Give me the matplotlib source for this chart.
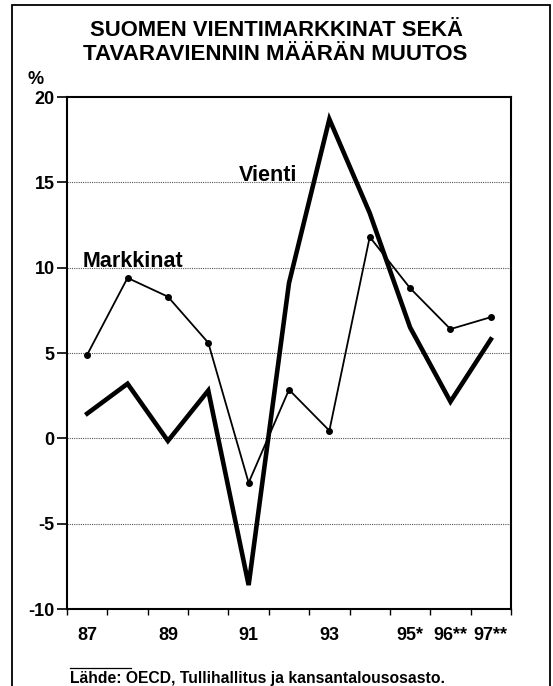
import matplotlib
matplotlib.use("Agg")
import matplotlib.pyplot as plt
from matplotlib.patches import Rectangle
from matplotlib.lines import Line2D

years = ["87", "88", "89", "90", "91", "92", "93", "94", "95*", "96**", "97**"]
tick_labels = ["87", "", "89", "", "91", "", "93", "", "95*", "96**", "97**"]
markkinat = [4.9, 9.4, 8.3, 5.6, -2.6, 2.85, 0.45, 11.8, 8.8, 6.4, 7.1]
vienti = [1.45, 3.2, -0.15, 2.8, -8.6, 9.1, 18.7, 13.2, 6.5, 2.15, 5.8]

plt.rcParams['font.family'] = ['Liberation Sans', 'DejaVu Sans']
plt.rcParams['font.weight'] = 'bold'

fig = plt.figure(figsize=(5.53, 6.86), dpi=100)
W, H = 553, 686
ax = fig.add_axes([67 / W, 1 - 609 / H, (511 - 67) / W, (609 - 97) / H])

x = list(range(len(years)))
ax.plot(x, vienti, color='black', lw=3.3, solid_joinstyle='miter', zorder=3)
ax.plot(x, markkinat, color='black', lw=1.3, marker='o', ms=4, zorder=4)

ax.set_xlim(-0.5, len(years) - 0.5)
ax.set_ylim(-10, 20)
ax.set_yticks([-10, -5, 0, 5, 10, 15, 20])
ax.set_yticklabels(['-10', '-5', '0', '5', '10', '15', '20'], fontsize=13, fontweight='bold')
ax.set_xticks(x)
ax.set_xticklabels(tick_labels, fontsize=13, fontweight='bold')
ax.tick_params(axis='x', length=0, pad=13)
ax.set_xticks([i - 0.5 for i in range(len(years) + 1)], minor=True)
ax.tick_params(axis='x', which='minor', length=4, width=1, direction='out')
ax.tick_params(axis='y', length=7, width=1.2, direction='out', pad=2)
for yv in [-5, 0, 5, 10, 15]:
    ax.axhline(yv, color='#555555', lw=0.8, ls=(0, (1, 1)), zorder=1)
for s in ax.spines.values():
    s.set_linewidth(1.5)

ax.text(4.48, 15.1, 'Vienti', fontsize=15.5, fontweight='bold', ha='center', va='baseline')
ax.text(1.13, 10.05, 'Markkinat', fontsize=15.5, fontweight='bold', ha='center', va='baseline')

fig.text(276 / W, 1 - 30 / H, 'SUOMEN VIENTIMARKKINAT SEKÄ', fontsize=15.8,
         fontweight='bold', ha='center', va='center')
fig.text(275 / W, 1 - 55 / H, 'TAVARAVIENNIN MÄÄRÄN MUUTOS', fontsize=16,
         fontweight='bold', ha='center', va='center')
fig.text(36 / W, 1 - 80 / H, '%', fontsize=13, fontweight='bold', ha='center', va='center')
fig.text(70 / W, 1 - 678 / H, 'Lähde: OECD, Tullihallitus ja kansantalousosasto.',
         fontsize=11.3, fontweight='bold', ha='left', va='center')
fig.add_artist(Line2D([70 / W, 131 / W], [1 - 668 / H, 1 - 668 / H], color='black', lw=0.9))

fig.add_artist(Rectangle((12 / W, -0.01), (550 - 12) / W, 1 - 5 / H + 0.01,
                         fill=False, edgecolor='black', lw=1.3))

fig.savefig('out.png', dpi=100)
